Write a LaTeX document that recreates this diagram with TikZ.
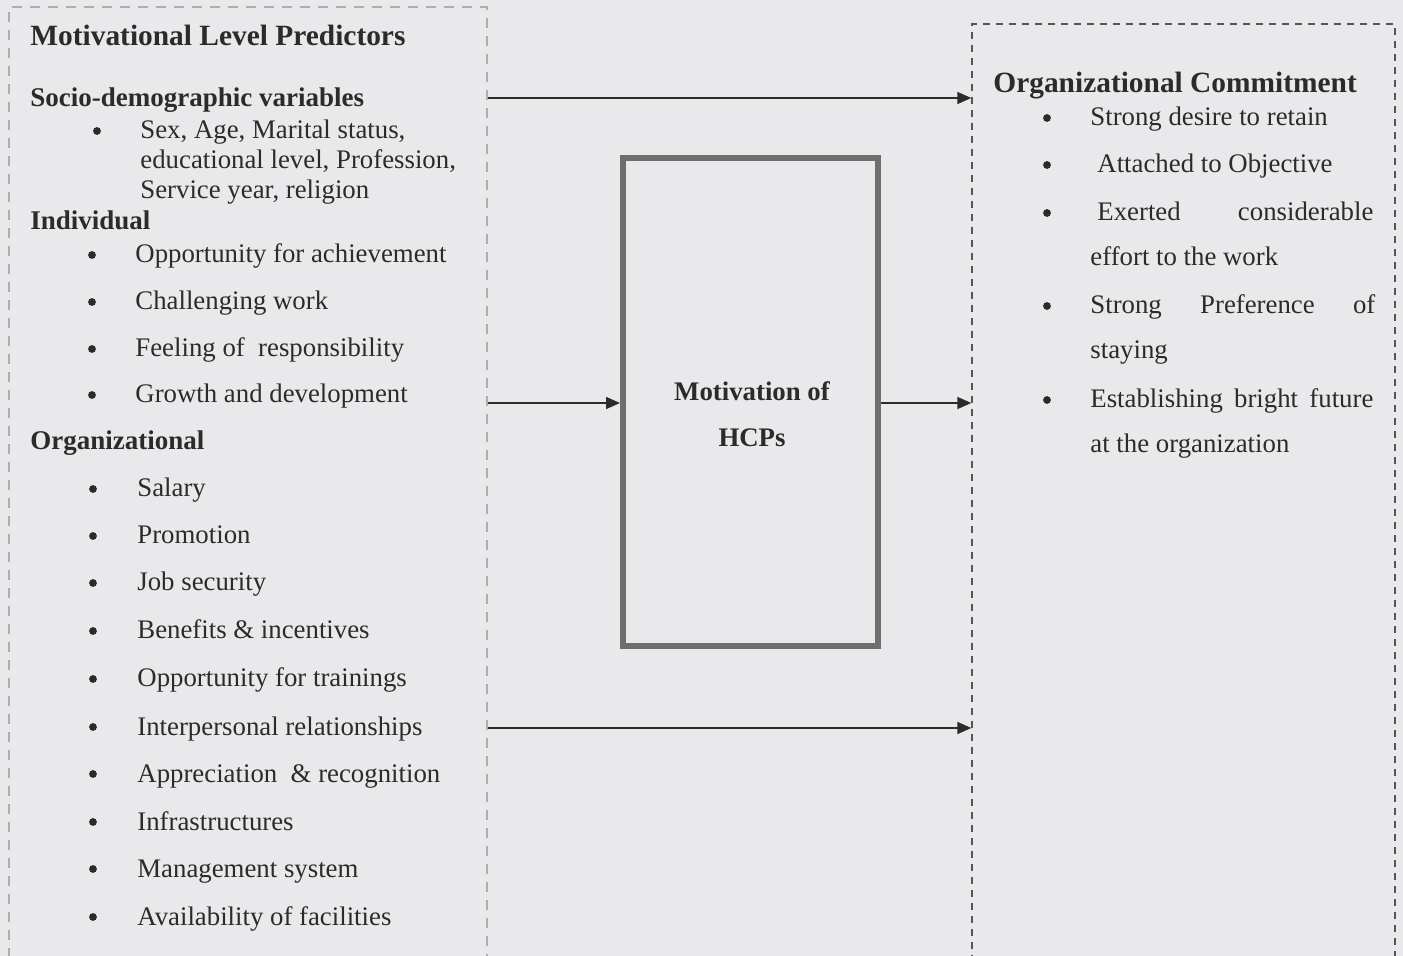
\documentclass[tikz,border=0pt]{standalone}
\usepackage{fontspec}
\setmainfont{Liberation Serif}
\usetikzlibrary{arrows.meta,fit}
\definecolor{bg}{HTML}{E9E9EB}
\definecolor{ink}{HTML}{2B2B2B}
\definecolor{lightdash}{HTML}{ADADAD}
\definecolor{darkdash}{HTML}{555555}
\definecolor{boxgray}{HTML}{6E6E6E}
\begin{document}
\begin{tikzpicture}[x=0.5pt,y=-0.5pt,
  txt/.style={anchor=base west, inner sep=0pt, text=ink, font=\fontsize{13.4}{16}\selectfont},
  hd/.style={txt, font=\fontsize{13.5}{16}\selectfont\bfseries},
  ttl/.style={txt, font=\fontsize{14.7}{17}\selectfont\bfseries},
  ctr/.style={anchor=base, inner sep=0pt, text=ink, font=\fontsize{13.4}{16}\selectfont\bfseries},
  bul/.style={circle, fill=ink, inner sep=0pt, minimum size=3.9pt},
  leftbox/.style={draw=lightdash, line width=0.6pt, dash pattern=on 5pt off 4pt, inner sep=0pt},
  rightbox/.style={draw=darkdash, line width=0.7pt, dash pattern=on 3.5pt off 3pt, inner sep=0pt},
  midbox/.style={draw=boxgray, line width=3pt, inner sep=0pt},
  conn/.style={draw=ink, line width=0.75pt, -{Triangle[length=7pt,width=6pt]}}
]
\useasboundingbox (0,0) rectangle (1403,956);
\fill[bg] (0,0) rectangle (1403,956);
\clip (0,0) rectangle (1403,956);

% boxes
\node[leftbox, fit={(9,7) (487,990)}] (L) {};
\node[rightbox, fit={(972,24) (1395,990)}] (R) {};
\node[midbox, fit={(623,158) (878,646)}] (M) {};

% left texts
\node[ttl] (lt) at (30,46) {Motivational Level Predictors};
\node[hd] (ls) at (30,107) {Socio-demographic variables};
\node[bul] (bs) at (97,131) {};
\node[txt] (s1) at (140,139) {Sex, Age, Marital status,};
\node[txt] (s2) at (140,169) {educational level, Profession,};
\node[txt] (s3) at (140,199) {Service year, religion};
\node[hd] (li) at (30,230) {Individual};
\foreach \y/\t [count=\i] in {263/Opportunity for achievement, 310/Challenging work, 357/Feeling of\ \ responsibility, 403/Growth and development}{
  \node[bul] (bi\i) at (92,\y-8) {};
  \node[txt] (ti\i) at (135,\y) {\t};
}
\node[hd] (lo) at (30,450) {Organizational};
\foreach \y/\t [count=\i] in {497/Salary, 544/Promotion, 591/Job security, 639/Benefits \& incentives, 687/Opportunity for trainings, 735/Interpersonal relationships, 782/Appreciation\ \ \& recognition, 830/Infrastructures, 877/Management system, 925/Availability of facilities}{
  \node[bul] (bo\i) at (93,\y-8) {};
  \node[txt] (to\i) at (137,\y) {\t};
}

% centre texts
\node[ctr] (m1) at (752,401) {Motivation of};
\node[ctr] (m2) at (752,447) {HCPs};

% right texts
\node[ttl] (rt) at (993,93) {Organizational Commitment};
\node[bul] (rb1) at (1047,118) {};
\node[txt] (r1) at (1090,126) {Strong desire to retain};
\node[bul] (rb2) at (1047,165) {};
\node[txt] (r2) at (1097,173) {Attached to Objective};
\node[bul] (rb3) at (1047,213) {};
\node[txt] (r3) at (1097,221) {\makebox[138pt][s]{Exerted\hfill considerable}};
\node[txt] (r3b) at (1090,266) {effort to the work};
\node[bul] (rb4) at (1047,306) {};
\node[txt] (r4) at (1090,314) {\makebox[142.5pt][s]{Strong\hfill Preference\hfill of}};
\node[txt] (r4b) at (1090,359) {staying};
\node[bul] (rb5) at (1047,400) {};
\node[txt] (r5) at (1090,408) {\makebox[141.5pt][s]{Establishing\hfill bright\hfill future}};
\node[txt] (r5b) at (1090,453) {at the organization};

% connectors
\coordinate (c1) at (L.east |- 0,98);
\coordinate (c2) at (L.east |- 0,403);
\coordinate (c3) at (L.east |- 0,728);
\draw[conn] (c1) -- (c1 -| R.west);
\draw[conn] (c2) -- (c2 -| M.west);
\draw[conn] (M.east |- c2) -- (c2 -| R.west);
\draw[conn] (c3) -- (c3 -| R.west);
\end{tikzpicture}
\end{document}
